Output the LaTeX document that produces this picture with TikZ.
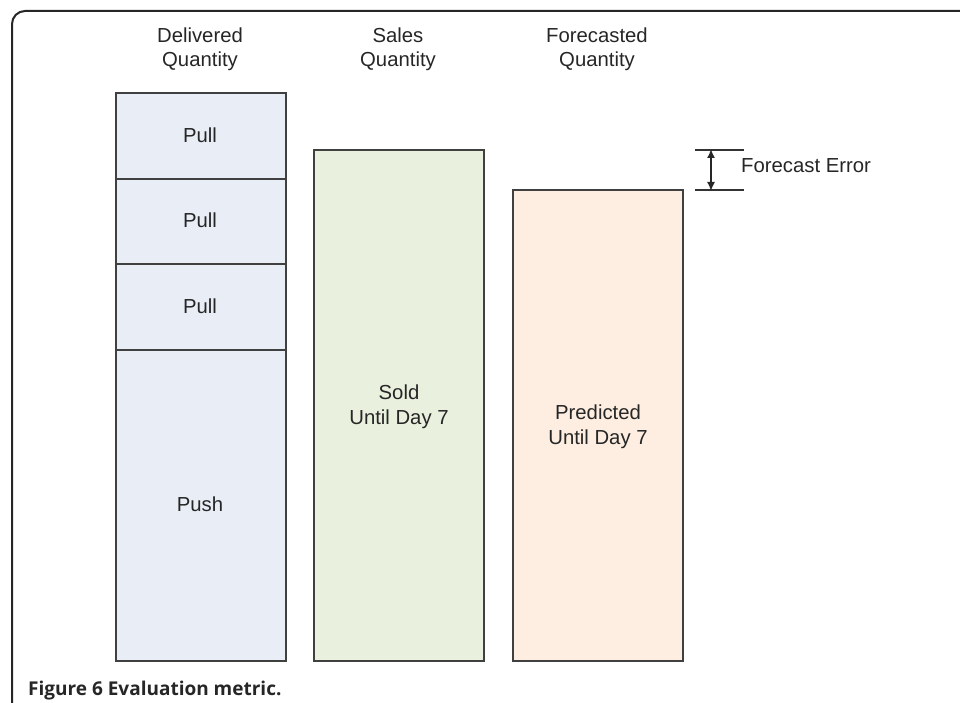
\documentclass[tikz,border=0pt]{standalone}
\usepackage{fontspec}
\setmainfont{Liberation Sans}
\newfontfamily\capfont{Open Sans}
\usetikzlibrary{arrows.meta}
\begin{document}
\begin{tikzpicture}[x=1pt,y=-1pt,
  bar/.style={draw=black!75, line width=1.7pt, anchor=north west, inner sep=0pt, outer sep=0pt, minimum width=170pt},
  lbl/.style={font=\fontsize{20.3}{24.5}\selectfont, text=black!85, align=center, inner sep=0pt},
  bluebar/.style={bar, fill=blueF},
  greenbar/.style={bar, fill=greenF},
  peachbar/.style={bar, fill=peachF},
  tick/.style={draw=black!80, line width=1.4pt},
  dim/.style={draw=black!85, line width=1.6pt, {Latex[length=9pt,width=8pt]}-{Latex[length=9pt,width=8pt]}}
]
\definecolor{blueF}{HTML}{E9EDF6}
\definecolor{greenF}{HTML}{E9F1DE}
\definecolor{peachF}{HTML}{FDEEE1}
\useasboundingbox (0,0) rectangle (960,703);
% frame
\draw[line width=2pt, black!85, rounded corners=13pt] (960,11) -- (12,11) -- (12,703);
% headers
\node[lbl, anchor=base] (hdel) at (200,67) {Delivered\\Quantity};
\node[lbl, anchor=base] (hsal) at (398,67) {Sales\\Quantity};
\node[lbl, anchor=base] (hfor) at (597,67) {Forecasted\\Quantity};
% delivered bars
\node[bluebar, minimum height=86pt] (pull1) at (116,93) {};
\node[bluebar, minimum height=85pt] (pull2) at (116,179) {};
\node[bluebar, minimum height=86pt] (pull3) at (116,264) {};
\node[bluebar, minimum height=311pt] (push) at (116,350) {};
\node[lbl, anchor=base] (tpull1) at (200,143) {Pull};
\node[lbl, anchor=base] (tpull2) at (200,228) {Pull};
\node[lbl, anchor=base] (tpull3) at (200,313) {Pull};
\node[lbl, anchor=base] (tpush) at (200,511) {Push};
% sales
\node[greenbar, minimum height=511pt] (sold) at (314,150) {};
\node[lbl, anchor=base] (tsold) at (399,424) {Sold\\Until Day 7};
% forecast
\node[peachbar, minimum height=471pt] (pred) at (513,190) {};
\node[lbl, anchor=base] (tpred) at (598,444) {Predicted\\Until Day 7};
% forecast error
\coordinate (et) at (695,150);
\coordinate (eb) at (695,190);
\draw[tick] (et) -- ++(49,0);
\draw[tick] (eb) -- ++(49,0);
\draw[dim] ([xshift=16pt,yshift=1pt]et) -- ([xshift=16pt,yshift=-1pt]eb);
\node[lbl, anchor=base west] (ferr) at (741,173) {Forecast Error};
% caption
\node[anchor=base west, inner sep=0pt, font=\capfont\bfseries\fontsize{19}{22}\selectfont, text=black!85] (cap) at (28,695) {Figure 6 Evaluation metric.};
\end{tikzpicture}
\end{document}
